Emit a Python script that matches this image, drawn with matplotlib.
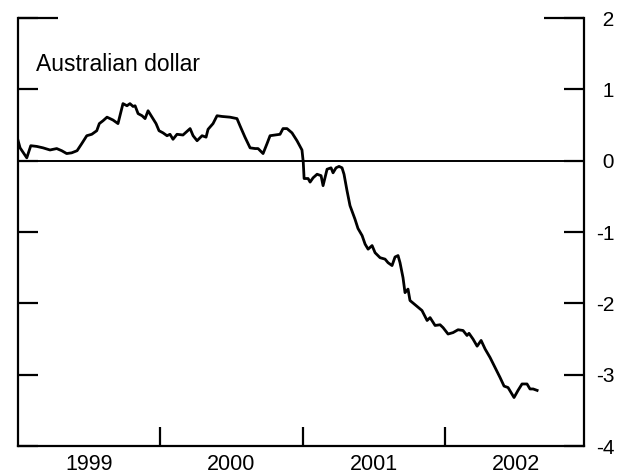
import matplotlib
matplotlib.use("Agg")
import matplotlib.pyplot as plt

plt.rcParams['font.family'] = ['Liberation Sans', 'DejaVu Sans']

# Australian dollar series (decimal year, value)
years = [1999.000, 1999.018, 1999.065, 1999.093, 1999.135, 1999.179, 1999.228, 1999.275,
         1999.310, 1999.345, 1999.380, 1999.418, 1999.451, 1999.486, 1999.521, 1999.556,
         1999.574, 1999.600, 1999.628, 1999.670, 1999.705, 1999.740, 1999.768, 1999.789,
         1999.811, 1999.825, 1999.846, 1999.874, 1999.895, 1999.916, 1999.944, 1999.972,
         1999.993, 2000.021, 2000.049, 2000.070, 2000.091, 2000.119, 2000.161, 2000.211,
         2000.232, 2000.260, 2000.295, 2000.323, 2000.337, 2000.372, 2000.400, 2000.435,
         2000.491, 2000.540, 2000.561, 2000.596, 2000.632, 2000.667, 2000.688, 2000.723,
         2000.751, 2000.772, 2000.807, 2000.842, 2000.863, 2000.891, 2000.926, 2000.961,
         2000.996, 2001.005, 2001.011, 2001.039, 2001.053, 2001.074, 2001.102, 2001.130,
         2001.144, 2001.172, 2001.200, 2001.214, 2001.235, 2001.256, 2001.277, 2001.291,
         2001.312, 2001.333, 2001.368, 2001.389, 2001.418, 2001.439, 2001.460, 2001.488,
         2001.509, 2001.544, 2001.579, 2001.600, 2001.628, 2001.649, 2001.670, 2001.684,
         2001.705, 2001.719, 2001.740, 2001.754, 2001.796, 2001.838, 2001.874, 2001.895,
         2001.930, 2001.965, 2001.986, 2002.021, 2002.056, 2002.091, 2002.126, 2002.154,
         2002.168, 2002.196, 2002.225, 2002.253, 2002.281, 2002.316, 2002.351, 2002.386,
         2002.414, 2002.442, 2002.484, 2002.512, 2002.540, 2002.575, 2002.596, 2002.618,
         2002.646]
values = [0.31, 0.18, 0.04, 0.21, 0.20, 0.18, 0.15, 0.17,
          0.14, 0.10, 0.11, 0.14, 0.24, 0.35, 0.37, 0.42,
          0.52, 0.56, 0.61, 0.57, 0.52, 0.80, 0.77, 0.80,
          0.76, 0.77, 0.66, 0.63, 0.59, 0.70, 0.61, 0.52,
          0.42, 0.39, 0.35, 0.37, 0.30, 0.37, 0.36, 0.45,
          0.35, 0.28, 0.35, 0.33, 0.44, 0.52, 0.63, 0.62,
          0.61, 0.59, 0.49, 0.33, 0.18, 0.17, 0.17, 0.10,
          0.24, 0.35, 0.36, 0.37, 0.45, 0.45, 0.39, 0.28,
          0.15, -0.02, -0.25, -0.25, -0.30, -0.24, -0.19, -0.21,
          -0.35, -0.12, -0.10, -0.17, -0.10, -0.08, -0.10, -0.19,
          -0.42, -0.63, -0.82, -0.95, -1.05, -1.17, -1.24, -1.19,
          -1.29, -1.36, -1.38, -1.43, -1.47, -1.35, -1.33, -1.43,
          -1.64, -1.85, -1.80, -1.96, -2.03, -2.10, -2.24, -2.20,
          -2.31, -2.30, -2.34, -2.43, -2.41, -2.37, -2.38, -2.45,
          -2.42, -2.50, -2.60, -2.52, -2.64, -2.76, -2.90, -3.04,
          -3.16, -3.18, -3.32, -3.22, -3.13, -3.13, -3.20, -3.20,
          -3.22]

yticks = [-4, -3, -2, -1, 0, 1, 2]
ytick_labels = ["-4", "-3", "-2", "-1", " 0", " 1", " 2"]
year_ticks = [2000, 2001, 2002]
year_labels = ["1999", "2000", "2001", "2002"]
year_mid = [1999.5, 2000.5, 2001.5, 2002.5]

fig = plt.figure(figsize=(6.3, 4.74), dpi=100)
ax = fig.add_axes([0.0278, 0.059, 0.8992, 0.903])

ax.plot(years, values, color='black', linewidth=2.0, solid_joinstyle='round')
ax.axhline(0, color='black', linewidth=1.4)

ax.set_xlim(1999.0, 2002.975)
ax.set_ylim(-4, 2)

for s in ['left', 'right', 'bottom']:
    ax.spines[s].set_linewidth(1.6)
ax.spines['top'].set_visible(False)

# y axis: labels on right, ticks inward on both sides
ax.yaxis.remove_overlapping_locs = False
ax.set_yticks(yticks)
ax.set_yticklabels(ytick_labels)
ax.tick_params(axis='y', which='major', direction='in', left=True, right=True,
               labelleft=False, labelright=True, length=14.5, width=1.6,
               labelsize=15, pad=9)
ax.set_yticks([2], minor=True)
ax.tick_params(axis='y', which='minor', direction='in', left=True, right=True,
               labelleft=False, labelright=False, length=29, width=1.6)

# x axis: year boundaries as ticks, year names centred between them
ax.set_xticks(year_ticks)
ax.set_xticklabels([])
ax.set_xticks(year_mid, minor=True)
ax.set_xticklabels(year_labels, minor=True)
ax.tick_params(axis='x', which='major', direction='in', length=14, width=1.6)
ax.tick_params(axis='x', which='minor', length=0, labelsize=15.5, pad=6)

ax.text(0.033, 0.892, "Australian dollar", transform=ax.transAxes,
        fontsize=16.5, ha='left', va='center')

fig.savefig("out.png", dpi=100)
